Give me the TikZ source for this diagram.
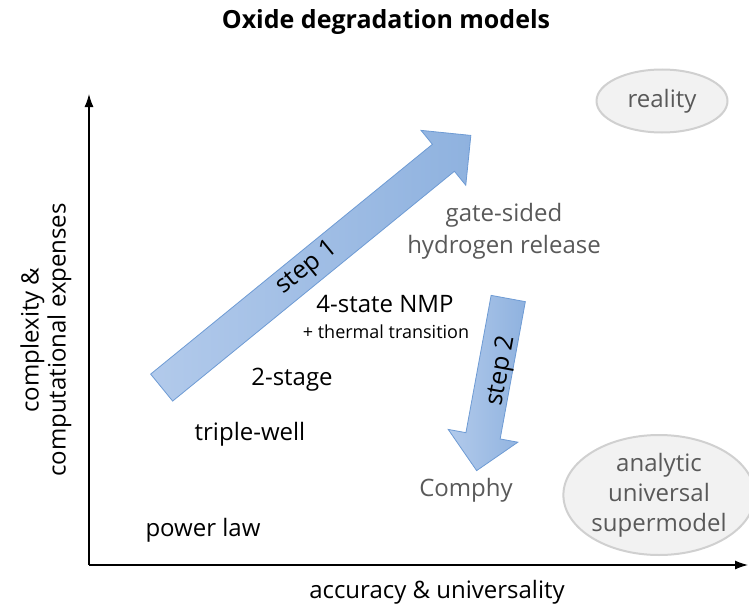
\documentclass[tikz,border=0pt]{standalone}
\usepackage{fontspec}
\setmainfont{Open Sans}
\usetikzlibrary{shapes.geometric,shapes.arrows,arrows.meta}
\definecolor{txtgrey}{RGB}{89,89,89}
\definecolor{ellfill}{RGB}{242,242,242}
\definecolor{ellline}{RGB}{208,208,208}
\definecolor{arrlight}{RGB}{178,202,235}
\definecolor{arrdark}{RGB}{143,178,223}
\definecolor{arredge}{RGB}{110,155,212}
\tikzset{
  lbl/.style={font=\fontsize{24}{27}\selectfont, inner sep=0pt, align=center},
  greylbl/.style={lbl, text=txtgrey},
  goal/.style={ellipse, draw=ellline, line width=2pt, fill=ellfill, text=txtgrey,
    font=\fontsize{24}{30}\selectfont, align=center, inner sep=0pt},
  bigarrow/.style={single arrow, draw=arredge, line width=0.8pt,
    left color=arrlight, right color=arrdark,
    single arrow head extend=18pt, single arrow tip angle=90,
    inner xsep=0pt, inner ysep=17pt, anchor=center},
  axis/.style={line width=1.2pt, -{Latex[length=13pt,width=9pt]}}
}
\begin{document}
\begin{tikzpicture}[x=1pt,y=-1pt]
  \useasboundingbox (0,0) rectangle (749,610);

  % title
  \node[font=\fontsize{25}{30}\selectfont\bfseries, inner sep=0pt] (title) at (386,22) {Oxide degradation models};

  % axes
  \coordinate (origin) at (89,565);
  \coordinate (ytop) at (89,94);
  \coordinate (xend) at (748,565);
  \draw[axis] (origin) -- (ytop);
  \draw[axis] (origin) -- (xend);
  \node[lbl] (xlabel) at (437,592) {accuracy \& universality};
  \node[lbl, rotate=90] (ylabel) at (46,340) {complexity \&\\computational expenses};

  % progress arrows
  \node[bigarrow, minimum height=399pt, rotate=39.2] (step1) at (309.5,267) {};
  \node[lbl, font=\fontsize{25}{30}\selectfont, rotate=39.2] (step1txt) at (307,268) {step 1};
  \node[bigarrow, minimum height=175pt, rotate=-100.4] (step2) at (494,376) {};
  \node[lbl, font=\fontsize{25}{30}\selectfont, rotate=79.6] (step2txt) at (502,371) {step 2};

  % targets
  \node[goal, minimum width=131pt, minimum height=63pt] (reality) at (662,101) {reality};
  \node[goal, minimum width=186pt, minimum height=120pt] (super) at (659,495) {analytic\\universal\\supermodel};

  % models
  \node[greylbl, font=\fontsize{24}{32}\selectfont] (hydro) at (504,231) {gate-sided\\hydrogen release};
  \node[lbl] (nmp) at (385,304) {4-state NMP};
  \node[lbl, font=\fontsize{18}{22}\selectfont] (thermal) at (386,332) {+ thermal transition};
  \node[lbl] (twostage) at (292,380) {2-stage};
  \node[lbl] (triple) at (250,434) {triple-well};
  \node[greylbl] (comphy) at (466,490) {Comphy};
  \node[lbl] (power) at (203,530) {power law};
\end{tikzpicture}
\end{document}
